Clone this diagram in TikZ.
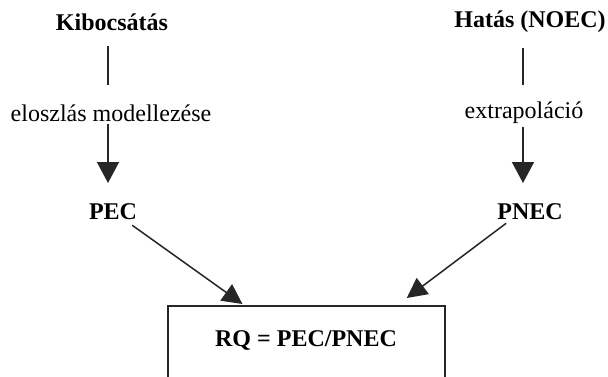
\documentclass[tikz,border=0pt]{standalone}
\usepackage{fontspec}
\setmainfont{Liberation Serif}
\usetikzlibrary{arrows.meta,calc}
\begin{document}
\begin{tikzpicture}[x=1pt,y=-1pt,
  lbl/.style={inner sep=1pt,font=\fontsize{24}{27}\selectfont},
  blbl/.style={lbl,font=\fontsize{24}{27}\selectfont\bfseries},
  conn/.style={line width=1.5pt,draw=black!85},
  arr/.style={conn,-{Triangle[width=22pt,length=21pt]}},
  darr/.style={conn,-{Triangle[width=20pt,length=20pt]}},
  box/.style={draw=black!85,line width=1.5pt,minimum width=277pt,minimum height=110pt,inner sep=0pt}]
\clip (0,0) rectangle (608,376);
\fill[white] (0,0) rectangle (608,376);
\node[blbl] (kib) at (112,22) {Kibocsátás};
\node[lbl] (mod) at (111,113) {eloszlás modellezése};
\node[blbl] (pec) at (113,212) {PEC};
\node[blbl] (hat) at (530,22) {Hatás (NOEC)};
\node[lbl] (ext) at (524,113) {extrapoláció};
\node[blbl] (pnec) at (530,212) {PNEC};
\node[box,anchor=north] (rq) at (306.5,305) {};
\node[blbl] (rqt) at (306,340) {RQ = PEC/PNEC};
\coordinate (kibs) at (108,46);
\coordinate (kibe) at (108,85);
\coordinate (mods) at (108,124);
\coordinate (pectip) at (108,183);
\draw[conn] (kibs) -- (kibe);
\draw[arr] (mods) -- (pectip);
\coordinate (hats) at (523,48);
\coordinate (hate) at (523,85);
\coordinate (exts) at (523,127);
\coordinate (pnectip) at (523,183);
\draw[conn] (hats) -- (hate);
\draw[arr] (exts) -- (pnectip);
\draw[darr] (pec.south east) ++(-6,4) -- ($(rq.north west)!0.27!(rq.north east)+(0,-1)$);
\draw[darr] (pnec.south west) ++(10,2) -- ($(rq.north west)!0.86!(rq.north east)+(0,-7)$);
\end{tikzpicture}
\end{document}
